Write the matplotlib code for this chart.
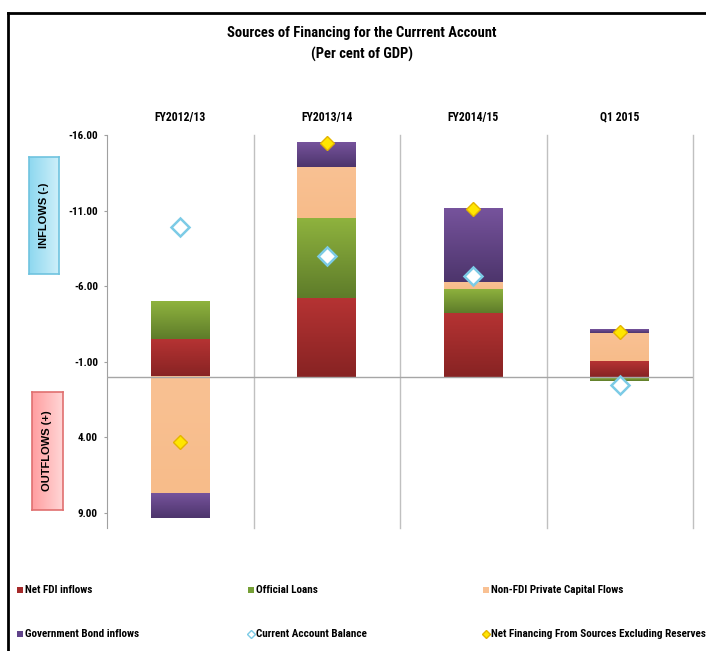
import numpy as np
import matplotlib.pyplot as plt
from matplotlib.lines import Line2D
from matplotlib.colors import LinearSegmentedColormap

plt.rcParams['font.family'] = ['Roboto Condensed', 'DejaVu Sans']
plt.rcParams['font.weight'] = 'bold'

# data (per cent of GDP, negative = inflow)
periods = ['FY2012/13', 'FY2013/14', 'FY2014/15', 'Q1 2015']
net_fdi = [-2.5, -5.2, -4.2, -1.05]
official_loans = [-2.5, -5.3, -1.6, 0.25]
non_fdi_private = [7.7, -3.4, -0.45, -1.85]
gov_bond = [1.65, -1.6, -4.85, -0.2]
ca_balance = [-9.9, -8.0, -6.7, 0.55]
net_financing = [4.3, -15.5, -11.1, -2.95]

series_names = ['Net FDI inflows', 'Official Loans', 'Non-FDI Private Capital Flows',
                'Government Bond inflows']
series_vals = [net_fdi, official_loans, non_fdi_private, gov_bond]
# light (top) -> dark (bottom)
series_cols = [('#B53333', '#872323'), ('#8FB33E', '#5E7C2A'),
               ('#F9C193', '#F7BC8A'), ('#76539C', '#4D356C')]
legend_cols = ['#A52A2A', '#76A036', '#F9C193', '#60438A']
ca_name = 'Current Account Balance'
nf_name = 'Net Financing From Sources Excluding Reserves'

W, H = 706, 651
fig = plt.figure(figsize=(W / 100, H / 100), dpi=100)
fig.patch.set_facecolor('white')


def px(x0, y0, w, h):
    return [x0 / W, 1 - (y0 + h) / H, w / W, h / H]


ax = fig.add_axes(px(107, 135, 586, 393))
x = np.arange(len(periods))
bw = 0.40
pos_base = np.zeros(len(periods))
neg_base = np.zeros(len(periods))
grad = np.linspace(0, 1, 64).reshape(-1, 1)
for name, vals, (c1, c2) in zip(series_names, series_vals, series_cols):
    vals = np.array(vals)
    bottoms = np.where(vals >= 0, pos_base, neg_base)
    bars = ax.bar(x, vals, bw, bottom=bottoms, color=c1, linewidth=0, zorder=2)
    cmap = LinearSegmentedColormap.from_list(name, [c1, c2])
    for r in bars:
        y0 = min(r.get_y(), r.get_y() + r.get_height())
        y1 = max(r.get_y(), r.get_y() + r.get_height())
        ax.imshow(grad, extent=(r.get_x(), r.get_x() + r.get_width(), y1, y0),
                  origin='upper', aspect='auto', cmap=cmap, zorder=2.1)
    pos_base += np.where(vals >= 0, vals, 0)
    neg_base += np.where(vals < 0, vals, 0)

ax.plot(x, ca_balance, ls='none', marker='D', ms=9, mfc='white', mec='#7CCBE6',
        mew=1.8, zorder=5)
ax.plot(x, net_financing, ls='none', marker='D', ms=7, mfc='#FFE600', mec='#E3B400',
        mew=1.0, zorder=5)

ax.set_xlim(-0.5, 3.5)
ax.set_ylim(10, -16)
ax.set_yticks(np.arange(-16, 10, 5))
ax.set_yticklabels([f'{v:.2f}' for v in np.arange(-16, 10, 5)], fontsize=8)
ax.tick_params(axis='y', length=2.5, color='#A0A0A0', pad=4)
ax.set_xticks(x)
ax.set_xticklabels(periods, fontsize=8.5)
ax.xaxis.tick_top()
ax.tick_params(axis='x', length=0, pad=8)
for xb in [0.5, 1.5, 2.5, 3.5]:
    ax.axvline(xb, color='#C0C0C0', lw=1, zorder=1, clip_on=False)
ax.axhline(0, color='#A6A6A6', lw=1, zorder=3)
for s in ['top', 'right', 'bottom']:
    ax.spines[s].set_visible(False)
ax.spines['left'].set_color('#A0A0A0')

# title
fig.text(362 / W, 1 - 33 / H, 'Sources of Financing for the Currrent Account',
         ha='center', va='center', fontsize=10.5)
fig.text(362 / W, 1 - 54 / H, '(Per cent of GDP)', ha='center', va='center', fontsize=10.5)

# side boxes
hgrad = np.linspace(0, 1, 64).reshape(1, -1)
for label, box, cols, edge in [('INFLOWS (-)', (29, 157, 30, 117), ['#8ED8F0', '#CDEFF9'], '#6FC3DF'),
                               ('OUTFLOWS (+)', (32, 392, 31, 118), ['#FF9EA0', '#FFD6D6'], '#E07070')]:
    bax = fig.add_axes(px(*box))
    bax.imshow(hgrad, aspect='auto', cmap=LinearSegmentedColormap.from_list(label, cols),
               extent=(0, 1, 0, 1))
    bax.set_xticks([])
    bax.set_yticks([])
    for s in bax.spines.values():
        s.set_color(edge)
        s.set_linewidth(1.2)
    bax.text(0.5, 0.5, label, rotation=90, ha='center', va='center', fontsize=8,
             family=['Liberation Sans', 'DejaVu Sans'], transform=bax.transAxes)

# frame
fig.add_artist(Line2D([8 / W, 8 / W], [0, 1 - 13 / H], transform=fig.transFigure,
                      color='black', lw=2))
fig.add_artist(Line2D([8 / W, 1], [1 - 13 / H, 1 - 13 / H], transform=fig.transFigure,
                      color='black', lw=2))

# legend
leg_items = [(series_names[0], 's', legend_cols[0], legend_cols[0]),
             (series_names[1], 's', legend_cols[1], legend_cols[1]),
             (series_names[2], 's', legend_cols[2], legend_cols[2]),
             (series_names[3], 's', legend_cols[3], legend_cols[3]),
             (ca_name, 'D', 'white', '#7CCBE6'),
             (nf_name, 'D', '#FFE600', '#E3B400')]
col_x = [20, 251, 486]
row_y = [590, 634]
for i, (lab, mk, fc, ec) in enumerate(leg_items):
    cx = col_x[i % 3]
    cy = row_y[i // 3]
    fig.add_artist(Line2D([cx / W], [1 - cy / H], marker=mk, ms=4.5, mfc=fc, mec=ec,
                          mew=1 if mk == 'D' else 0, ls='none', transform=fig.transFigure))
    fig.text((cx + 5) / W, 1 - cy / H, lab, ha='left', va='center', fontsize=8)

fig.savefig('out.png', dpi=100)
